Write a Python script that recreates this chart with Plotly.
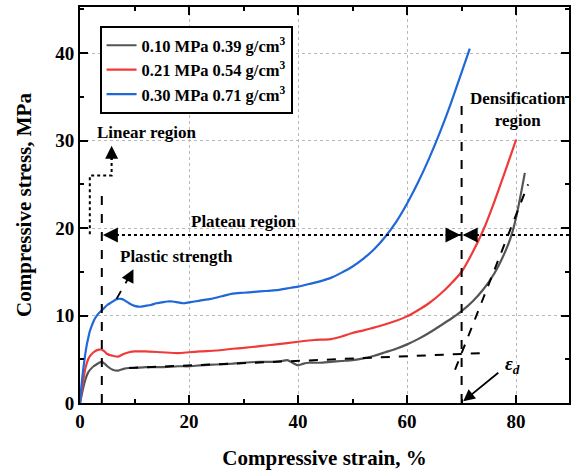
import plotly.graph_objects as go

# ---- data ----
labels = ["0.10 MPa 0.39 g/cm<sup>3</sup>",
          "0.21 MPa 0.54 g/cm<sup>3</sup>",
          "0.30 MPa 0.71 g/cm<sup>3</sup>"]
colors = ["#555555", "#f03a3a", "#1e68d8"]

gray_x = [0, 0.5, 1, 1.5, 2, 2.5, 3, 3.5, 4, 4.5, 5, 6, 7, 8, 9, 10, 12, 15, 18, 20, 22, 25, 28, 30,
          33, 35, 37, 38, 39, 40, 41, 42, 44, 46, 48, 50, 52, 54, 56, 58, 60, 62, 64, 66, 68, 70,
          72, 74, 76, 78, 79, 80, 81, 81.6]
gray_y = [0, 1.5, 2.7, 3.5, 3.9, 4.2, 4.4, 4.6, 4.7, 4.5, 4.2, 3.8, 3.7, 3.9, 4.0, 4.0, 4.1, 4.1, 4.2,
          4.2, 4.3, 4.4, 4.5, 4.6, 4.7, 4.7, 4.8, 4.9, 4.6, 4.3, 4.5, 4.6, 4.6, 4.7, 4.8, 4.9, 5.1,
          5.4, 5.8, 6.2, 6.7, 7.3, 8.0, 8.8, 9.6, 10.5, 11.6, 13.0, 14.8, 17.3, 18.9, 21.2, 24.3, 26.3]

red_x = [0, 0.5, 1, 1.5, 2, 2.5, 3, 3.5, 4, 4.5, 5, 6, 7, 8, 9, 10, 12, 15, 18, 20, 22, 25, 28, 30,
         33, 36, 40, 43, 46, 48, 50, 52, 55, 58, 60, 62, 64, 66, 68, 70, 72, 74, 76, 78, 80]
red_y = [0, 2.2, 4.0, 5.0, 5.5, 5.8, 6.0, 6.1, 6.1, 5.9, 5.6, 5.4, 5.3, 5.6, 5.8, 5.9, 5.9, 5.8, 5.7,
         5.8, 5.9, 6.0, 6.2, 6.3, 6.5, 6.7, 7.0, 7.2, 7.3, 7.6, 8.0, 8.3, 8.8, 9.4, 9.9, 10.6, 11.4,
         12.4, 13.6, 15.0, 17.2, 19.8, 23.0, 26.5, 30.1]

blue_x = [0, 0.3, 0.6, 0.9, 1.2, 1.5, 1.8, 2.2, 2.6, 3, 3.5, 4, 4.5, 5, 5.5, 6, 6.5, 7, 7.5, 8, 9, 10,
          11, 12, 13, 14, 15, 16, 17, 18, 19, 20, 22, 24, 26, 28, 30, 32, 34, 36, 38, 40, 42, 44, 46,
          48, 50, 52, 54, 56, 58, 60, 62, 64, 66, 68, 70, 71.5]
blue_y = [0, 2.2, 3.9, 5.3, 6.5, 7.4, 8.2, 8.9, 9.5, 9.9, 10.3, 10.6, 10.9, 11.2, 11.4, 11.6, 11.8,
          11.9, 11.9, 11.8, 11.4, 11.1, 11.0, 11.1, 11.2, 11.4, 11.5, 11.6, 11.6, 11.5, 11.4, 11.5,
          11.7, 11.9, 12.2, 12.5, 12.6, 12.7, 12.8, 12.9, 13.1, 13.3, 13.6, 13.9, 14.3, 14.9, 15.6,
          16.5, 17.6, 19.0, 20.7, 22.8, 25.2, 27.9, 30.9, 34.2, 37.8, 40.5]

x_ticks = [0, 20, 40, 60, 80]
y_ticks = [0, 10, 20, 30, 40]
x_range = [0, 89.7]
y_range = [0, 45.26]

# annotation geometry (data units)
eps_d = 70
plateau_y = 19.2
linear_x = 4
plateau_fit = ([9, 73.5], [4.0, 5.7])
tangent = ([68.8, 82.2], [3.8, 25.0])

FONT = "Liberation Serif"

fig = go.Figure()
for xs, ys, name, c in [(gray_x, gray_y, labels[0], colors[0]),
                        (red_x, red_y, labels[1], colors[1]),
                        (blue_x, blue_y, labels[2], colors[2])]:
    fig.add_trace(go.Scatter(x=xs, y=ys, mode="lines", name=name,
                             line=dict(color=c, width=2.2, shape="spline", smoothing=0.6)))

shapes = []
dash_line = dict(color="black", width=2, dash="dash")
dot_line = dict(color="black", width=2, dash="dot")
# linear region bracket (dotted)
shapes.append(dict(type="path", xref="x", yref="y",
                   path="M 1.8,19.3 L 1.8,26 L 5.8,26 L 5.8,28.2", line=dot_line))
# vertical dashed at linear limit
shapes.append(dict(type="line", xref="x", yref="y", x0=linear_x, x1=linear_x, y0=0, y1=24,
                   line=dash_line))
# vertical dashed at densification strain
shapes.append(dict(type="line", xref="x", yref="y", x0=eps_d, x1=eps_d, y0=0, y1=34.3,
                   line=dash_line))
# plateau dotted line
shapes.append(dict(type="line", xref="x", yref="y", x0=linear_x + 1.5, x1=x_range[1],
                   y0=plateau_y, y1=plateau_y, line=dot_line))
# fitted plateau line and densification tangent
shapes.append(dict(type="line", xref="x", yref="y", x0=plateau_fit[0][0], x1=plateau_fit[0][1],
                   y0=plateau_fit[1][0], y1=plateau_fit[1][1], line=dash_line))
shapes.append(dict(type="line", xref="x", yref="y", x0=tangent[0][0], x1=tangent[0][1],
                   y0=tangent[1][0], y1=tangent[1][1], line=dash_line))
# plastic strength dashed shaft
shapes.append(dict(type="line", xref="x", yref="y", x0=6.7, x1=9.0, y0=11.9, y1=14.4,
                   line=dict(color="black", width=1.8, dash="dash")))

anns = []
tfont = dict(family=FONT, size=17, color="black", weight="bold")
anns.append(dict(x=12.2, y=30.9, xref="x", yref="y", text="Linear region", showarrow=False, font=tfont))
anns.append(dict(x=30.1, y=20.7, xref="x", yref="y", text="Plateau region", showarrow=False, font=tfont))
anns.append(dict(x=80.3, y=33.6, xref="x", yref="y", text="Densification<br>region", showarrow=False,
                 font=tfont, align="center"))
anns.append(dict(x=17.7, y=16.7, xref="x", yref="y", text="Plastic strength", showarrow=False, font=tfont))
anns.append(dict(x=79.3, y=4.3, xref="x", yref="y", text="<i>ε<sub>d</sub></i>", showarrow=False,
                 font=dict(family=FONT, size=19, color="black")))


def arrow(x, y, ax, ay, w=2, size=1.3):
    return dict(x=x, y=y, ax=ax, ay=ay, xref="x", yref="y", axref="x", ayref="y", text="",
                showarrow=True, arrowhead=2, arrowsize=size, arrowwidth=w, arrowcolor="black")


anns.append(arrow(5.8, 29.4, 5.8, 27.6))
anns.append(arrow(9.8, 15.3, 9.0, 14.3))
anns.append(arrow(linear_x + 0.2, plateau_y, linear_x + 3.2, plateau_y, size=1.5))
anns.append(arrow(eps_d - 0.2, plateau_y, eps_d - 3.2, plateau_y, size=1.5))
anns.append(arrow(eps_d + 0.2, plateau_y, eps_d + 3.2, plateau_y, size=1.5))
anns.append(arrow(eps_d + 0.3, 0.2, 77.0, 3.6, w=1.8))

fig.update_layout(
    width=571, height=470,
    margin=dict(l=80, r=0, t=7, b=67),
    paper_bgcolor="white", plot_bgcolor="white",
    font=dict(family=FONT, size=18, color="black", weight="bold"),
    shapes=shapes, annotations=anns,
    showlegend=True,
    legend=dict(x=0.04, y=0.952, xanchor="left", yanchor="top", bgcolor="white",
                bordercolor="black", borderwidth=2,
                font=dict(family=FONT, size=16.5, color="black", weight="bold"),
                tracegroupgap=0, itemwidth=30),
)
common = dict(showline=True, linecolor="black", linewidth=2, mirror="allticks",
              ticks="inside", ticklen=8, tickwidth=2, tickcolor="black",
              showgrid=True, gridcolor="#b8b8b8", griddash="dot", gridwidth=1,
              zeroline=False,
              tickfont=dict(family=FONT, size=19, color="black", weight="bold"))
fig.update_xaxes(range=x_range, tickvals=x_ticks, **common,
                 minor=dict(dtick=10, ticks="inside", ticklen=4, tickwidth=2, tickcolor="black",
                            showgrid=False),
                 title=dict(text="Compressive strain, %", standoff=20,
                            font=dict(family=FONT, size=21, weight="bold")))
fig.update_yaxes(range=y_range, tickvals=y_ticks, **common,
                 minor=dict(dtick=5, ticks="inside", ticklen=4, tickwidth=2, tickcolor="black",
                            showgrid=False),
                 title=dict(text="Compressive stress, MPa", standoff=18,
                            font=dict(family=FONT, size=21, weight="bold")))

fig.write_html("out.html")
